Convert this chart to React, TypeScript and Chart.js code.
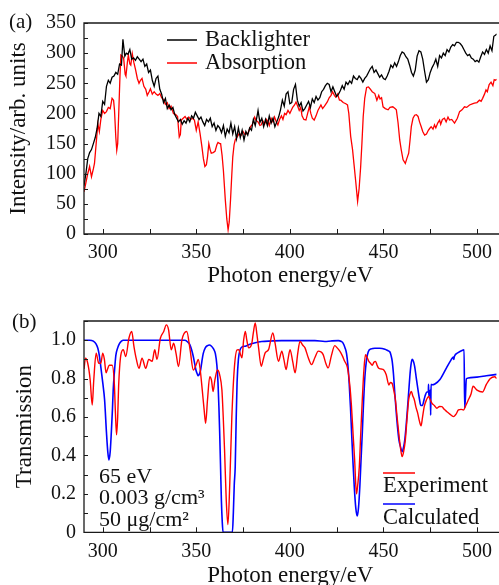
import { useEffect, useRef } from "react";
import { Chart, registerables } from "chart.js";

Chart.register(...registerables);

const FONT = "'Liberation Serif', 'Times New Roman', serif";

// ---------- Panel (a): [photon energy (eV), intensity] ----------
const backlighter: [number, number][] = [
  [290,80],[291,100],[292,125],[293,135],[294,140],[295,150],[296,160],[297,175],[298,200],[299,195],
  [300,220],[301,215],[302,245],[303,255],[304,250],[305,260],[306,262],[307,268],[308,265],[309,282],
  [310,280],[310.8,323],[311.8,295],[312.6,300],[313.5,298],[314.5,306],[315.5,290],[316.5,292],[317.5,288],[318.5,294],
  [319.5,290],[320.5,286],[321.5,290],[322.5,278],[323.5,282],[324.5,268],[325.5,272],[326.5,255],[327.5,245],[328.5,258],
  [329.5,262],[330.5,240],[331.5,232],[332.5,218],[333.5,225],[334.5,208],[335.5,214],[336.5,206],[337.5,210],[338.5,198],
  [339.5,192],[340.5,186],[341.5,190],[342.5,182],[343.5,188],[344.5,184],[345.5,192],[346.5,186],[347.5,196],[348.5,192],
  [349.5,202],[350.5,196],[351.5,190],[352.5,194],[353.5,186],[354.5,180],[355.5,190],[356.5,186],[357.5,192],[358.5,178],
  [359.5,184],[360.5,172],[361.5,180],[362.5,176],[363.5,168],[364.5,180],[365.5,162],[366.5,174],[367.5,168],[368.5,184],
  [369.5,166],[370.5,178],[371.5,158],[372.5,176],[373.5,160],[374.5,172],[375.5,156],[376.5,170],[377.5,164],[378.5,176],
  [379.5,172],[380.5,190],[381.5,180],[382.5,196],[383,205],[384,185],[385,192],[386,178],[387,190],[388,180],
  [389,196],[390,184],[391,192],[392,178],[393,186],[394,194],[395,206],[396,222],[397,212],[398,232],
  [399,236],[400,216],[401,218],[402,240],[403,248],[404,222],[405,212],[406,218],[407,204],[408,208],
  [409,214],[410,220],[411,210],[412,224],[413,218],[414,228],[415,222],[416,226],[417,236],[418,240],
  [419,246],[420,250],[421,248],[422,236],[423,244],[424,236],[425,228],[426,232],[427,238],[428,246],
  [429,240],[430,252],[431,248],[432,254],[433,250],[434,262],[435,258],[436,256],[437,262],[438,258],
  [439,252],[440,258],[441,262],[442,268],[443,274],[444,278],[445,268],[446,272],[447,266],[448,260],
  [449,264],[450,258],[451,256],[452,262],[453,270],[454,280],[455,276],[456,284],[457,278],[458,286],
  [459,296],[460,302],[461,300],[462,294],[463,290],[464,280],[465,268],[466,262],[467,272],[468,295],
  [469,304],[470,302],[471,290],[472,270],[473,252],[474,256],[475,268],[476,276],[477,282],[478,290],
  [479,278],[480,296],[481,292],[482,300],[483,296],[484,306],[485,302],[486,310],[487,314],[488,312],
  [489,318],[490,318],[491,316],[492,312],[493,306],[494,300],[495,296],[496,298],[497,292],[498,290],
  [499,286],[500,288],[501,285],[502,294],[503,302],[504,298],[505,306],[506,300],[507,312],[508,304],
  [509,328],[510,330],[510.5,332],
];

const absorption: [number, number][] = [
  [290,70],[291,85],[292,100],[293,112],[294,95],[295,108],[295.6,117],[296.5,150],[297.4,183],[298.2,170],
  [299,190],[300,205],[301,200],[302,203],[303,210],[304,208],[305,225],[305.8,222],[306.3,205],[307,160],
  [307.5,139],[308,150],[308.5,195],[309.2,260],[309.7,297],[310.5,295],[311.2,291],[312,265],[312.4,262],[313.2,285],
  [313.7,297],[314.5,282],[315,280],[315.8,299],[316.6,285],[317.6,272],[318.5,258],[319.4,250],[320.2,255],[321,258],
  [322,245],[323,240],[323.8,230],[324.8,236],[325.5,241],[326.5,232],[327.5,236],[328.5,232],[329.5,230],[330.5,233],
  [331.5,226],[332.6,222],[333.5,215],[334.5,218],[335.5,208],[336.5,212],[337.8,200],[339,198],[340,195],[340.5,175],
  [340.9,161],[341.5,165],[342,189],[343,192],[344,195],[345,190],[346,194],[347,190],[348,192],[349,189],
  [350,172],[351,186],[352,167],[353,145],[353.8,125],[354.6,112],[355.4,115],[356,128],[356.7,150],[357.4,140],
  [358,134],[359,135],[360,137],[361,148],[361.6,152],[362.5,150],[363,150],[363.8,130],[364.5,105],[365.5,57],
  [366.3,25],[367,7],[367.6,20],[368.3,57],[369,100],[369.5,128],[370.2,148],[370.8,156],[372,162],[373,167],
  [374,164],[375,170],[376,165],[377.6,167],[379,178],[380,182],[381.2,194],[382,188],[383,186],[384,180],
  [384.7,181],[385.5,188],[386.5,182],[387.5,190],[388.3,186],[389,180],[390,192],[391,186],[391.8,194],[392.8,186],
  [393.6,181],[394.5,190],[395.5,196],[396.3,190],[397.2,200],[398,198],[399,205],[400,200],[400.7,205],[401.5,210],
  [402.5,214],[403.3,219],[404.2,212],[405,205],[405.8,210],[406.5,196],[407.5,190],[408.6,189],[409.5,200],[410.4,211],
  [411.2,200],[412,192],[413,189],[414,196],[415,205],[416.6,214],[417.5,208],[418.5,212],[420,219],[421,226],
  [422,230],[422.8,236],[423.8,230],[424.5,227],[425.5,232],[426.5,222],[427.2,222],[428.5,218],[429.9,216],[430.8,214],
  [431.5,200],[432.5,162],[433.5,140],[434.3,115],[435.2,87],[436.2,54],[437,75],[437.8,110],[438.5,150],[439.2,195],
  [440,225],[441,243],[442,244],[442.8,241],[444,236],[445.4,233],[446.5,222],[447.5,230],[448.2,224],[449,226],
  [449.8,211],[451,208],[452.5,206],[453.5,210],[455,211],[456.2,208],[456.9,206],[457.8,185],[458.7,156],[459.5,140],
  [460.5,123],[461.7,117],[462.5,125],[463.5,134],[464.2,155],[464.9,178],[465.8,192],[466.7,197],[467.6,198],[468.5,195],
  [469.3,186],[470.2,178],[471,170],[472,164],[473,166],[474,172],[474.7,175],[475.5,178],[476.5,174],[477.3,181],
  [478,176],[479,184],[480,189],[480.6,182],[481.5,190],[482.6,192],[483.5,186],[484.5,194],[485.3,189],[486.5,190],
  [488,184],[489.5,192],[490.7,203],[492,206],[493.3,211],[494.5,210],[496,214],[497.5,216],[498.6,217],[500,218],
  [501.3,222],[502.2,220],[503,225],[504,232],[504.8,239],[505.5,236],[506.5,248],[507.5,252],[508.5,246],[509.2,256],
  [510,255],[510.5,257],
];

const yTicksA = [0, 50, 100, 150, 200, 250, 300, 350];
const yMinorTicksA = [0, 25, 50, 75, 100, 125, 150, 175, 200, 225, 250, 275, 300, 325, 350];

// ---------- Panel (b): [photon energy (eV), transmission] ----------
const experiment: [number, number][] = [
  [290,0.85],[290.8,0.906],[292,0.88],[293.3,0.793],[294.4,0.663],[295.2,0.79],[296.5,0.932],[297.9,0.88],[299,0.88],[300,0.932],
  [300.9,0.9],[301.8,0.83],[302.6,0.85],[303.5,0.87],[305,0.87],[306.2,0.776],[306.8,0.62],[307.4,0.507],[308,0.6],[308.5,0.76],
  [309.7,0.924],[311,0.95],[312.3,0.915],[314,1.01],[315.5,1.045],[316.7,0.967],[318,0.9],[319.4,0.854],[321,0.906],[323,0.854],
  [324.6,0.9],[326.4,0.89],[327.8,0.95],[329,0.9],[330.8,1.01],[332.6,1.045],[334,1.08],[335.2,1.054],[336.6,0.95],[337.9,0.984],
  [339.2,0.93],[340.5,0.863],[342.3,1.0],[344.9,1.045],[346.7,0.95],[348.4,0.845],[350.2,0.88],[351,0.9],[352,0.854],[353.2,0.74],
  [354.2,0.637],[355,0.568],[356,0.69],[357.2,0.81],[358.1,0.793],[359,0.733],[359.9,0.79],[361.3,0.845],[362.5,0.82],[363.7,0.74],
  [364.4,0.6],[365.1,0.43],[366,0.17],[366.9,0.04],[367.9,0.255],[369,0.6],[370.4,0.863],[371.8,0.95],[372.7,0.951],[373.5,0.93],
  [374.4,0.908],[375.3,1.0],[376.2,1.046],[377,1.0],[378,0.96],[379.7,0.985],[380.5,1.04],[381.5,1.09],[382.4,1.03],[383.3,0.96],
  [384.7,0.864],[385.8,0.9],[386.8,0.934],[388.6,0.951],[390.9,1.038],[392.1,0.985],[393.9,0.89],[395.7,0.943],[396.8,0.9],[398,0.847],
  [399,0.9],[400.1,0.951],[401.5,0.89],[402.8,0.83],[404.2,0.93],[405.4,0.994],[406.8,0.975],[408.1,0.96],[409.8,0.91],[411.6,0.873],
  [413.4,0.91],[415.2,0.943],[416.5,0.94],[417.8,0.925],[419.2,0.88],[420.5,0.856],[422.2,0.92],[424,0.972],[425.3,0.96],[426.7,0.943],
  [428,0.92],[429.3,0.89],[430.7,0.86],[432,0.769],[432.9,0.66],[433.8,0.509],[434.6,0.38],[435.6,0.2],[436.3,0.25],[437.1,0.34],
  [437.9,0.52],[438.7,0.69],[439.6,0.85],[440.4,0.924],[441.3,0.91],[442.2,0.89],[443.1,0.88],[444,0.87],[444.9,0.885],[445.8,0.89],
  [446.6,0.87],[447.5,0.854],[448.8,0.85],[450.2,0.845],[451.5,0.82],[452.9,0.767],[453.7,0.78],[454.6,0.776],[455.5,0.74],[456.4,0.69],
  [457.3,0.6],[458.2,0.516],[459.1,0.44],[460,0.394],[460.8,0.42],[461.7,0.48],[462.6,0.59],[463.5,0.69],[464.2,0.72],[464.9,0.733],
  [465.7,0.71],[466.5,0.69],[467.4,0.65],[468.3,0.62],[469.2,0.58],[470.1,0.554],[470.9,0.6],[471.8,0.654],[473,0.69],[474.1,0.707],
  [475,0.69],[475.9,0.672],[477.2,0.66],[478.6,0.646],[480,0.655],[481.2,0.654],[482.5,0.64],[483.9,0.628],[485.5,0.615],[487.4,0.602],
  [488.8,0.615],[490.1,0.637],[491.5,0.64],[492.8,0.637],[494,0.66],[495.4,0.69],[496.8,0.72],[497.9,0.76],[500,0.74],[502.9,0.73],
  [505,0.77],[507,0.8],[509.5,0.81],[510.5,0.8],
];

const calculated: [number, number][] = [
  [290,1.0],[293,1.0],[295,0.995],[296.5,0.98],[297.4,0.958],[298.2,0.92],[299,0.86],[300,0.78],[301,0.69],[302,0.52],
  [302.7,0.42],[303.3,0.377],[304,0.42],[304.6,0.52],[305.2,0.64],[305.6,0.74],[306.3,0.84],[307,0.92],[308,0.96],[308.8,0.98],
  [310,0.995],[311,1.0],[344,1.0],[345.5,0.99],[346.6,0.976],[347.5,0.95],[348.4,0.915],[349.2,0.875],[349.8,0.845],[350.5,0.825],
  [351,0.815],[351.7,0.825],[352.3,0.845],[353,0.89],[353.7,0.93],[354.8,0.96],[356,0.972],[357,0.975],[358,0.97],[359.2,0.955],
  [360.2,0.93],[361,0.87],[361.6,0.78],[362.1,0.65],[362.5,0.52],[363,0.33],[363.4,0.17],[363.9,0.05],[364.3,0],[369.3,0],
  [369.8,0.1],[370.3,0.25],[370.8,0.34],[371.3,0.58],[371.8,0.78],[372.5,0.9],[373.4,0.95],[374.5,0.965],[376.6,0.97],[378,0.976],
  [381,0.985],[385,0.993],[390,0.996],[395.6,0.998],[405,0.998],[413.4,0.998],[418.7,0.993],[422,0.996],[425.9,0.998],[427.5,0.993],
  [428.5,0.984],[429.5,0.96],[430.3,0.93],[431,0.87],[431.7,0.776],[432.4,0.65],[433,0.516],[433.7,0.37],[434.4,0.24],[435.2,0.13],
  [436,0.085],[436.7,0.13],[437.4,0.24],[438,0.37],[438.7,0.516],[439.4,0.68],[440.1,0.81],[441,0.9],[441.9,0.94],[443.5,0.955],
  [445.4,0.958],[448,0.958],[450.8,0.953],[452.5,0.945],[453.4,0.94],[454.1,0.92],[454.7,0.89],[455.4,0.82],[456.1,0.72],[456.8,0.63],
  [457.5,0.55],[458.3,0.48],[459.1,0.446],[460,0.42],[460.7,0.44],[461.4,0.48],[462.1,0.55],[462.8,0.637],[463.5,0.73],[464.1,0.81],
  [464.7,0.87],[465.3,0.9],[466,0.89],[466.7,0.863],[467.6,0.8],[468.5,0.74],[469.3,0.69],[470,0.66],[470.8,0.66],[471.7,0.69],
  [472.5,0.717],[473.2,0.73],[474,0.73],[474.1,0.77],[474.25,0.71],[475,0.74],[475.25,0.61],[475.45,0.77],[476,0.768],[477.5,0.772],
  [480.2,0.795],[483.7,0.856],[486,0.895],[487.3,0.912],[487.6,0.9],[487.9,0.915],[489.9,0.935],[492.6,0.949],[493.1,0.95],[493.4,0.647],
  [493.8,0.7],[494.3,0.8],[500,0.808],[505,0.815],[510.5,0.822],
];

const yTicksB = [0, 0.2, 0.4, 0.6, 0.8, 1.0];
const yTickLabelsB = ["0", "0.2", "0.4", "0.6", "0.8", "1.0"];
const yMinorTicksB = [0, 0.1, 0.2, 0.3, 0.4, 0.5, 0.6, 0.7, 0.8, 0.9, 1.0, 1.1];

const xTicks = [300, 350, 400, 450, 500];
const xMinorTicks = [300, 325, 350, 375, 400, 425, 450, 475, 500];

const xTitle = "Photon energy/eV";
const yTitleA = "Intensity/arb. units";
const yTitleB = "Transmission";
const annotLines = ["65 eV", "0.003 g/cm\u00B3", "50 \u03BCg/cm\u00B2"];

function pts(pairs: [number, number][]) {
  return pairs.map(([x, y]) => ({ x, y }));
}

type TextItem = { text: string; x: number; y: number; size: number };
type LegItem = { x1: number; x2: number; y: number; color: string };

function makeOverlay(cfg: { yMinor: number[]; texts: TextItem[]; legs: LegItem[] }) {
  return {
    id: "overlay",
    afterDraw(chart: any) {
      const { ctx, chartArea } = chart;
      const { left, top, right, bottom } = chartArea;
      const xs = chart.scales.x;
      const ys = chart.scales.y;
      ctx.save();
      ctx.strokeStyle = "#1a1a1a";
      ctx.lineWidth = 1.3;
      ctx.beginPath();
      ctx.moveTo(right + 3, top);
      ctx.lineTo(left, top);
      ctx.lineTo(left, bottom);
      ctx.lineTo(right + 3, bottom);
      ctx.stroke();
      ctx.lineWidth = 1;
      ctx.beginPath();
      xMinorTicks.forEach((v) => {
        const px = Math.round(xs.getPixelForValue(v)) + 0.5;
        ctx.moveTo(px, bottom);
        ctx.lineTo(px, bottom - 5);
      });
      cfg.yMinor.forEach((v) => {
        const py = Math.round(ys.getPixelForValue(v)) + 0.5;
        ctx.moveTo(left, py);
        ctx.lineTo(left + 4, py);
      });
      ctx.stroke();
      cfg.legs.forEach((l) => {
        ctx.strokeStyle = l.color;
        ctx.lineWidth = 1.5;
        ctx.beginPath();
        ctx.moveTo(l.x1, l.y);
        ctx.lineTo(l.x2, l.y);
        ctx.stroke();
      });
      ctx.fillStyle = "#111";
      ctx.textBaseline = "middle";
      ctx.textAlign = "left";
      cfg.texts.forEach((t) => {
        ctx.font = `${t.size}px ${FONT}`;
        ctx.fillText(t.text, t.x, t.y);
      });
      ctx.restore();
    },
  };
}

function makeConfig(opts: {
  datasets: any[];
  yMin: number;
  yMax: number;
  yTicks: number[];
  yLabels: string[];
  padTop: number;
  xHeight: number;
  yTitle: string;
  yTitlePad: number;
  overlay: any;
}) {
  return {
    type: "line",
    data: { datasets: opts.datasets },
    options: {
      animation: false,
      responsive: false,
      devicePixelRatio: 1,
      layout: { padding: { top: opts.padTop, left: 0, right: 0, bottom: 0 } },
      plugins: { legend: { display: false }, tooltip: { enabled: false } },
      elements: { point: { radius: 0 } },
      scales: {
        x: {
          type: "linear",
          min: 290,
          max: 510.5,
          grid: { display: false, drawTicks: false },
          border: { display: false },
          afterBuildTicks: (s: any) => {
            s.ticks = xTicks.map((v) => ({ value: v }));
          },
          afterFit: (s: any) => {
            s.height = opts.xHeight;
          },
          ticks: {
            color: "#111",
            padding: 7,
            font: { family: FONT, size: 20 },
            maxRotation: 0,
            callback: (v: any) => String(v),
          },
          title: {
            display: true,
            text: xTitle,
            color: "#111",
            font: { family: FONT, size: 23 },
            padding: { top: 0, bottom: 2.2 },
          },
        },
        y: {
          type: "linear",
          min: opts.yMin,
          max: opts.yMax,
          grid: { display: false, drawTicks: false },
          border: { display: false },
          afterBuildTicks: (s: any) => {
            s.ticks = opts.yTicks.map((v) => ({ value: v }));
          },
          afterFit: (s: any) => {
            s.width = 84;
          },
          ticks: {
            color: "#111",
            padding: 8,
            font: { family: FONT, size: 20 },
            callback: (v: any) => {
              const i = opts.yTicks.findIndex((t) => Math.abs(t - v) < 1e-9);
              return i >= 0 ? opts.yLabels[i] : "";
            },
          },
          title: {
            display: true,
            text: opts.yTitle,
            color: "#111",
            font: { family: FONT, size: 23 },
            padding: { top: opts.yTitlePad, bottom: 0 },
          },
        },
      },
    },
    plugins: [opts.overlay],
  } as any;
}

export default function App() {
  const refA = useRef<HTMLCanvasElement>(null);
  const refB = useRef<HTMLCanvasElement>(null);

  useEffect(() => {
    const overlayA = makeOverlay({
      yMinor: yMinorTicksA,
      texts: [
        { text: "(a)", x: 9, y: 22, size: 21 },
        { text: "Backlighter", x: 205, y: 40, size: 22.5 },
        { text: "Absorption", x: 205, y: 63, size: 22.5 },
      ],
      legs: [
        { x1: 167, x2: 197, y: 40, color: "#000000" },
        { x1: 167, x2: 197, y: 63, color: "#ff0000" },
      ],
    });
    const chartA = new Chart(
      refA.current!,
      makeConfig({
        datasets: [
          { label: "Backlighter", data: pts(backlighter), borderColor: "#000000", borderWidth: 1.3, tension: 0 },
          { label: "Absorption", data: pts(absorption), borderColor: "#ff0000", borderWidth: 1.3, tension: 0 },
        ],
        yMin: 0,
        yMax: 350,
        yTicks: yTicksA,
        yLabels: yTicksA.map(String),
        padTop: 23,
        xHeight: 58,
        yTitle: yTitleA,
        yTitlePad: 4.7,
        overlay: overlayA,
      })
    );

    const overlayB = makeOverlay({
      yMinor: yMinorTicksB,
      texts: [
        { text: "(b)", x: 12, y: 30, size: 21 },
        { text: annotLines[0], x: 99, y: 185, size: 22 },
        { text: annotLines[1], x: 99, y: 206, size: 22 },
        { text: annotLines[2], x: 99, y: 228, size: 22 },
        { text: "Experiment", x: 383, y: 194, size: 22.5 },
        { text: "Calculated", x: 383, y: 226, size: 22.5 },
      ],
      legs: [
        { x1: 383, x2: 415, y: 181, color: "#ff0000" },
        { x1: 383, x2: 415, y: 212, color: "#0000ff" },
      ],
    });
    const chartB = new Chart(
      refB.current!,
      makeConfig({
        datasets: [
          { label: "Experiment", data: pts(experiment), borderColor: "#ff0000", borderWidth: 1.4, cubicInterpolationMode: "monotone" },
          { label: "Calculated", data: pts(calculated), borderColor: "#0000ff", borderWidth: 1.6, cubicInterpolationMode: "monotone" },
        ],
        yMin: 0,
        yMax: 1.1,
        yTicks: yTicksB,
        yLabels: yTickLabelsB,
        padTop: 29,
        xHeight: 59.7,
        yTitle: yTitleB,
        yTitlePad: 11.2,
        overlay: overlayB,
      })
    );

    return () => {
      chartA.destroy();
      chartB.destroy();
    };
  }, []);

  return (
    <div
      style={{
        position: "fixed",
        left: 0,
        top: 0,
        width: 499,
        height: 585,
        overflow: "hidden",
        background: "#fff",
      }}
    >
      <canvas
        ref={refA}
        width={499}
        height={292}
        style={{ position: "absolute", left: 0, top: 0, width: 499, height: 292 }}
      />
      <canvas
        ref={refB}
        width={499}
        height={300}
        style={{ position: "absolute", left: 0, top: 292, width: 499, height: 300 }}
      />
    </div>
  );
}
